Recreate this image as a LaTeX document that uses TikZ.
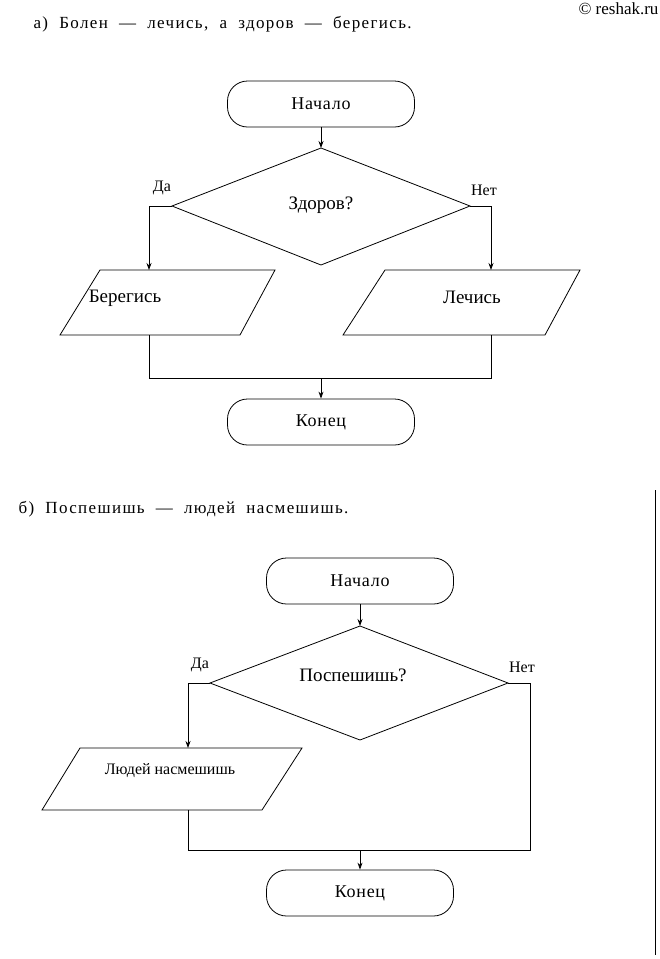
\documentclass[tikz,border=0pt]{standalone}
\usepackage{fontspec}
\setmainfont{Liberation Serif}
\usetikzlibrary{arrows.meta,shapes.geometric}
\begin{document}
\begin{tikzpicture}[x=1pt,y=-1pt,
  term/.style={draw,rounded corners=20pt,minimum width=187pt,minimum height=46pt,font=\fontsize{18}{20}\selectfont\addfontfeature{LetterSpace=4}},
  lbl/.style={font=\fontsize{19}{21}\selectfont},
  small/.style={font=\fontsize{16}{18}\selectfont},
  ttl/.style={font=\fontsize{17}{19}\selectfont\addfontfeature{LetterSpace=8}},
  line/.style={line width=0.8pt},
  arr/.style={line width=0.8pt,-{Stealth[length=7pt,width=5pt]}}]
\useasboundingbox (0,0) rectangle (659,959);
\node[anchor=east,font=\fontsize{17}{19}\selectfont] (wm) at (662,9) {© reshak.ru};
% ---- part a
\node[anchor=west,ttl] (ta) at (30,24) {а)\ \ Болен\ \ —\ \ лечись,\ \ а\ \ здоров\ \ —\ \ берегись.};
\node[term,line] (sa) at (321,104) {Начало};
\coordinate (dat) at (321,148); \coordinate (dal) at (172,206);
\coordinate (dar) at (470,206); \coordinate (dab) at (321,265);
\draw[line] (dat)--(dar)--(dab)--(dal)--cycle;
\node[lbl] (qa) at (321,205) {Здоров?};
\node[small] (yesa) at (162,188) {Да};
\node[small] (noa) at (484,190) {Нет};
\draw[line] (100,270)--(275,270)--(240,335)--(60,335)--cycle;
\node[lbl] (pa1) at (125,298) {Берегись};
\draw[line] (385,270)--(580,270)--(545,335)--(343,335)--cycle;
\node[lbl] (pa2) at (472,297) {Лечись};
\coordinate (pa1t) at (149,270); \coordinate (pa1b) at (149,335);
\coordinate (pa2t) at (491,270); \coordinate (pa2b) at (491,335);
\coordinate (ja) at (321,378);
\node[term,line] (ea) at (321,422) {Конец};
\draw[arr] (sa)--(dat);
\draw[arr] (dal)-|(pa1t);
\draw[arr] (dar)-|(pa2t);
\draw[line] (pa1b)|-(ja); \draw[line] (pa2b)|-(ja);
\draw[arr] (ja)--(ea);
% ---- part b
\node[anchor=west,ttl] (tb) at (15,509) {б)\ \ Поспешишь\ \ —\ \ людей\ \ насмешишь.};
\node[term,line] (sb) at (360,581) {Начало};
\coordinate (dbt) at (360,626); \coordinate (dbl) at (210,683);
\coordinate (dbr) at (508,683); \coordinate (dbb) at (360,740);
\draw[line] (dbt)--(dbr)--(dbb)--(dbl)--cycle;
\node[lbl] (qb) at (353,675) {Поспешишь?};
\node[small] (yesb) at (200,665) {Да};
\node[small] (nob) at (522,667) {Нет};
\draw[line] (80,748)--(302,748)--(262,810)--(42,810)--cycle;
\node[small] (pb) at (170,771) {Людей насмешишь};
\coordinate (pbt) at (188,748); \coordinate (pbb) at (188,810);
\coordinate (rb) at (530,850); \coordinate (jb) at (360,850);
\node[term,line] (eb) at (360,893) {Конец};
\draw[arr] (sb)--(dbt);
\draw[arr] (dbl)-|(pbt);
\draw[line] (dbr)-|(rb)--(jb);
\draw[line] (pbb)|-(jb);
\draw[arr] (jb)--(eb);
\coordinate (v1) at (655,490); \coordinate (v2) at (655,955);
\draw[line] (v1)--(v2);
\end{tikzpicture}
\end{document}
